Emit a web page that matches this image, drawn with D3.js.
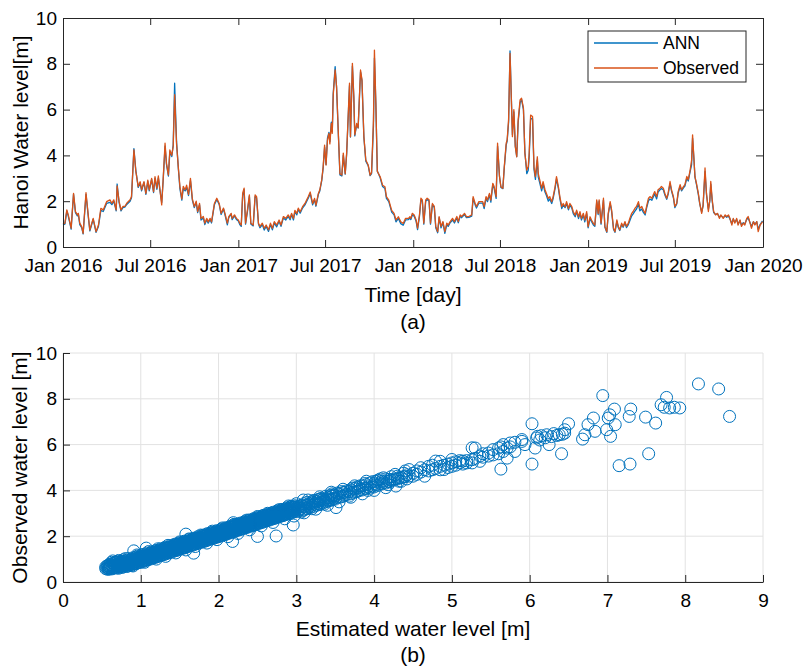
<!DOCTYPE html>
<html><head><meta charset="utf-8">
<script src="https://cdn.jsdelivr.net/npm/d3@7"></script>
<style>
body{margin:0;background:#fff}
text{font-family:"Liberation Sans",Arial,Helvetica,sans-serif}
</style>
</head><body>
<svg id="chart" width="804" height="669"></svg>
<script>
// ---------- Data: time series (day index since 1 Jan 2016) ----------
const days = [
0,4,8,11,17,22,26,30,32,35,39,42,48,53,56,63,69,74,79,84,91,98,102,106,111,113,117,121,125,129,133,140,143,148,152,157,161,164,169,173,177,180,185,189,192,196,199,202,206,209,213,216,220,223,227,230,233,237,241,244,248,251,255,258,262,266,270,274,278,281,285,288,293,296,300,303,307,310,316,321,326,330,335,338,343,346,351,353,358,362,366,369,372,375,378,381,385,389,392,397,401,404,408,411,416,420,424,429,433,437,441,446,451,455,460,465,470,474,
477,481,484,488,491,495,500,505,512,516,521,525,528,533,536,540,543,546,549,552,555,557,560,562,564,568,571,575,578,582,585,589,592,596,598,600,604,607,609,613,616,621,624,628,632,637,641,644,648,650,653,656,662,667,672,675,680,686,691,695,700,705,710,715,721,724,
726,729,733,737,740,744,747,750,753,757,760,764,767,771,775,778,782,785,789,793,797,801,804,808,813,817,822,825,829,832,838,842,847,853,856,860,863,868,876,879,883,886,890,893,897,900,904,907,911,914,918,921,925,927,930,933,936,938,941,944,947,950,954,957,961,964,968,971,973,976,980,983,986,990,992,995,999,1002,1006,1009,1013,1016,1020,1023,1027,1030,1034,1037,1041,1044,1048,1051,1055,1058,1062,1065,1069,1072,1076,1079,1082,1086,1089,1093,1096,1100,1103,1107,
1110,1114,1117,1119,1123,1128,1131,1135,1138,1142,1145,1149,1152,1156,1159,1162,1166,1169,1173,1176,1180,1183,1187,1190,1194,1197,1201,1204,1208,1211,1215,1218,1222,1225,1229,1232,1235,1239,1242,1246,1249,1253,1256,1260,1263,1267,1270,1274,1277,1281,1284,1288,1291,1295,1298,1302,1305,1309,1312,1314,1317,1319,1322,1326,1329,1333,1336,1340,1343,1347,1350,1352,1355,1358,1362,1366,1370,1373,1378,1382,1385,1389,1392,1396,1399,1402,1406,1409,1413,1416,1420,1423,1427,1430,1434,1437,1441,1444,1448,1451,1455,1458,1460
];
const observed = [
1.0,1.04,1.62,1.4,0.82,2.34,1.55,1.4,1.47,1.04,0.89,0.6,2.37,1.33,0.74,1.25,0.67,0.96,1.69,1.62,1.98,2.06,1.91,2.06,1.62,2.67,2.0,1.62,1.77,1.77,1.91,2.06,2.2,4.24,3.3,2.64,2.85,2.5,2.85,2.34,2.92,2.5,3.0,2.42,3.07,2.57,3.1,2.57,1.84,2.94,4.53,3.65,3.15,4.24,4.0,4.4,6.65,4.5,3.4,2.65,2.1,2.65,2.5,2.7,2.3,3.0,2.1,1.77,2.0,1.55,1.9,1.25,1.33,1.04,1.25,1.1,1.25,1.1,1.9,2.13,1.9,1.47,1.7,1.47,1.04,1.33,1.47,1.25,1.4,1.25,1.18,1.04,0.96,2.35,2.57,1.04,1.62,2.28,1.04,0.96,2.28,2.2,1.04,0.9,1.04,0.82,0.96,0.75,1.04,0.82,1.11,0.96,1.18,0.96,1.33,1.25,1.4,1.25,
1.47,1.25,1.6,1.47,1.7,1.54,1.76,1.9,2.2,2.4,1.9,2.12,1.83,2.34,2.5,2.93,3.5,4.45,3.58,4.67,4.96,4.5,5.4,4.96,6.64,7.73,7.0,4.8,3.2,3.14,4.1,3.2,4.1,6.13,7.15,4.82,8.02,6.56,4.9,5.4,5.2,7.73,7.3,4.82,3.8,3.58,3.14,3.25,5.55,8.6,6.27,3.3,3.07,2.7,2.63,2.2,2.05,1.6,1.47,1.18,1.32,1.1,1.03,1.25,1.25,1.32,
1.25,1.47,1.4,1.18,0.82,1.4,2.13,2.06,1.04,2.06,2.13,2.06,1.04,1.9,1.77,0.9,0.67,1.33,0.9,1.11,0.67,1.04,0.96,1.11,1.25,1.11,1.33,1.11,1.4,1.33,1.47,1.33,1.33,1.4,2.2,1.91,1.77,1.98,1.98,1.76,2.2,2.05,2.34,2.05,2.78,2.63,2.2,4.53,3.07,2.63,2.56,3.5,4.53,4.67,5.55,8.45,6.27,4.82,6.0,4.38,3.94,5.55,6.42,6.5,6.06,4.1,3.36,3.5,4.1,5.76,5.7,3.5,3.07,3.94,3.2,2.93,2.56,2.85,2.5,2.34,2.12,2.2,1.98,2.2,2.63,3.07,2.63,2.2,1.76,1.9,1.76,1.98,1.68,1.9,1.76,1.54,1.39,1.61,1.32,1.54,1.25,1.47,1.18,1.54,0.89,1.32,1.18,1.03,
0.96,2.06,1.47,2.06,1.04,2.13,0.9,0.67,1.47,1.98,1.62,0.82,0.67,1.18,0.9,0.75,1.04,0.9,1.11,0.9,1.04,1.25,1.47,1.55,1.7,1.77,1.98,1.69,1.77,1.62,1.47,1.77,2.13,2.2,2.13,2.28,2.42,2.2,2.5,2.57,2.64,2.57,2.35,2.13,2.35,2.86,2.5,2.2,1.77,1.91,2.42,2.72,2.5,2.64,2.72,3.08,2.94,3.37,3.8,4.9,3.8,3.07,2.79,2.35,1.9,1.47,1.84,3.45,2.35,1.55,2.06,2.86,2.06,1.55,1.4,1.47,1.25,1.4,1.25,1.4,1.33,1.4,1.25,0.96,1.25,1.04,1.25,0.96,1.18,0.9,1.04,0.96,1.25,1.33,1.04,0.82,1.11,0.96,1.11,0.67,0.96,1.04,1.11
];
const ann = [
0.97,1.0,1.58,1.35,0.78,2.3,1.5,1.36,1.44,0.98,0.85,0.57,2.3,1.28,0.7,1.21,0.64,0.9,1.6,1.55,1.9,1.95,1.85,2.0,1.58,2.75,1.95,1.58,1.72,1.74,1.86,2.0,2.15,4.3,3.35,2.6,2.8,2.45,2.82,2.3,2.86,2.45,2.95,2.38,3.0,2.52,3.02,2.52,1.95,2.88,4.4,3.6,3.1,4.15,3.95,4.45,7.15,4.6,3.35,2.55,2.05,2.55,2.45,2.6,2.25,2.9,2.05,1.72,1.95,1.5,1.84,1.18,1.27,0.98,1.2,1.04,1.2,1.05,1.85,2.08,1.86,1.42,1.66,1.42,0.97,1.28,1.43,1.2,1.36,1.2,1.13,0.98,0.9,2.25,2.5,1.0,1.55,2.22,1.0,0.92,2.2,2.15,1.0,0.84,0.98,0.74,0.9,0.68,0.98,0.75,1.05,0.88,1.12,0.9,1.27,1.18,1.34,1.19,
1.42,1.18,1.54,1.4,1.64,1.48,1.7,1.84,2.14,2.33,1.84,2.06,1.78,2.3,2.45,2.9,3.45,4.35,3.6,4.75,5.0,4.6,5.45,5.05,6.7,7.88,6.95,4.75,3.15,3.1,4.0,3.18,4.05,6.05,7.05,4.8,7.9,6.5,4.85,5.35,5.2,7.65,7.25,4.78,3.75,3.55,3.12,3.2,5.3,8.25,6.2,3.32,3.02,2.64,2.55,2.12,1.98,1.52,1.4,1.1,1.25,1.02,0.95,1.18,1.2,1.26,
1.2,1.4,1.34,1.12,0.76,1.34,2.05,2.0,1.0,2.0,2.07,2.0,1.0,1.85,1.72,0.84,0.62,1.28,0.84,1.06,0.6,0.98,0.9,1.06,1.18,1.05,1.27,1.06,1.35,1.28,1.42,1.28,1.29,1.35,2.12,1.86,1.7,1.92,1.92,1.68,2.14,1.98,2.28,1.96,2.72,2.55,2.12,4.4,3.1,2.6,2.55,3.45,4.45,4.62,5.45,8.56,6.35,4.9,5.9,4.4,3.95,5.45,6.3,6.45,6.0,4.15,3.2,3.35,3.95,5.6,5.6,3.4,2.95,3.8,3.05,2.8,2.45,2.75,2.4,2.25,2.0,2.1,1.9,2.12,2.55,2.98,2.55,2.12,1.68,1.84,1.72,1.9,1.62,1.84,1.7,1.46,1.32,1.55,1.24,1.48,1.18,1.4,1.1,1.46,0.84,1.25,1.12,0.96,
0.9,1.98,1.42,2.0,1.0,2.05,0.86,0.64,1.42,1.9,1.56,0.78,0.64,1.12,0.85,0.72,0.98,0.86,1.05,0.85,0.98,1.15,1.36,1.45,1.58,1.66,1.88,1.58,1.66,1.52,1.4,1.7,2.02,2.1,2.04,2.18,2.32,2.1,2.4,2.5,2.55,2.5,2.28,2.08,2.3,2.78,2.45,2.15,1.72,1.88,2.36,2.64,2.45,2.58,2.66,3.0,2.88,3.3,3.6,4.75,3.78,3.05,2.75,2.3,1.88,1.52,1.8,3.3,2.3,1.65,2.0,2.75,2.0,1.5,1.42,1.45,1.3,1.38,1.28,1.36,1.3,1.35,1.22,1.02,1.22,1.08,1.2,1.0,1.15,0.96,1.06,1.0,1.2,1.28,1.06,0.9,1.1,1.0,1.1,0.78,0.98,1.08,1.14
];
const yTicksTop = [0, 2, 4, 6, 8, 10];
const seriesNames = ["ANN", "Observed"];

// ---------- Data: scatter (estimated, observed) ----------
const scatterPoints = [
[0.55,0.58],[0.55,0.66],[0.58,0.62],[0.58,0.72],[0.58,0.55],[0.61,0.68],[0.61,0.6],[0.61,0.78],
[0.64,0.7],[0.64,0.62],[0.64,0.82],[0.64,0.92],[0.67,0.66],[0.67,0.74],[0.67,0.85],
[0.70,0.62],[0.70,0.71],[0.70,0.8],[0.70,0.9],[0.73,0.66],[0.73,0.75],[0.73,0.84],
[0.76,0.64],[0.76,0.72],[0.76,0.8],[0.76,0.9],[0.79,0.7],[0.79,0.78],[0.79,0.88],
[0.82,0.68],[0.82,0.76],[0.82,0.86],[0.82,0.95],[0.85,0.74],[0.85,0.83],[0.85,0.92],
[0.88,0.72],[0.88,0.8],[0.88,0.9],[0.88,1.0],[0.91,0.78],[0.91,0.87],[0.91,0.96],
[0.94,0.8],[0.94,0.9],[0.94,1.0],[0.94,1.08],[0.97,0.84],[0.97,0.93],[0.97,1.03],
[1.00,0.86],[1.00,0.96],[1.00,1.06],[1.00,1.14],[1.03,0.9],[1.03,0.99],[1.03,1.1],
[1.06,0.93],[1.06,1.03],[1.06,1.12],[1.06,1.2],[1.09,0.97],[1.09,1.06],[1.09,1.16],
[1.12,1.0],[1.12,1.1],[1.12,1.19],[1.12,1.27],[1.15,1.04],[1.15,1.13],[1.15,1.23],
[1.18,1.07],[1.18,1.16],[1.18,1.26],[1.18,1.33],[1.21,1.1],[1.21,1.2],[1.21,1.29],
[1.24,1.14],[1.24,1.23],[1.24,1.32],[1.24,1.4],[1.27,1.17],[1.27,1.27],[1.27,1.36],
[1.30,1.2],[1.30,1.3],[1.30,1.39],[1.30,1.47],[1.33,1.24],[1.33,1.33],[1.33,1.43],
[1.36,1.27],[1.36,1.37],[1.36,1.46],[1.36,1.53],[1.39,1.3],[1.39,1.4],[1.39,1.49],
[1.42,1.34],[1.42,1.43],[1.42,1.53],[1.42,1.6],[1.45,1.37],[1.45,1.47],[1.45,1.56],
[1.48,1.4],[1.48,1.5],[1.48,1.59],[1.48,1.67],[1.51,1.44],[1.51,1.53],[1.51,1.63],
[1.54,1.47],[1.54,1.57],[1.54,1.66],[1.54,1.73],[1.57,1.5],[1.57,1.6],[1.57,1.7],
[1.60,1.54],[1.60,1.63],[1.60,1.73],[1.60,1.8],[1.63,1.57],[1.63,1.67],[1.63,1.76],
[1.66,1.6],[1.66,1.7],[1.66,1.8],[1.66,1.87],[1.69,1.64],[1.69,1.73],[1.69,1.83],
[1.72,1.67],[1.72,1.77],[1.72,1.86],[1.72,1.93],[1.75,1.7],[1.75,1.8],[1.75,1.9],
[1.78,1.74],[1.78,1.83],[1.78,1.93],[1.78,2.0],[1.81,1.77],[1.81,1.87],[1.81,1.96],
[1.84,1.8],[1.84,1.9],[1.84,2.0],[1.84,2.07],[1.87,1.84],[1.87,1.93],[1.87,2.03],
[1.90,1.87],[1.90,1.97],[1.90,2.06],[1.90,2.13],[1.93,1.9],[1.93,2.0],[1.93,2.1],
[1.96,1.94],[1.96,2.03],[1.96,2.13],[1.96,2.2],[1.99,1.97],[1.99,2.07],[1.99,2.16],
[2.02,2.0],[2.02,2.1],[2.02,2.2],[2.02,2.27],[2.05,2.04],[2.05,2.13],[2.05,2.23],
[2.08,2.07],[2.08,2.17],[2.08,2.26],[2.08,2.33],[2.11,2.1],[2.11,2.2],[2.11,2.3],
[2.14,2.14],[2.14,2.23],[2.14,2.33],[2.14,2.4],[2.17,2.17],[2.17,2.27],[2.17,2.36],
[2.20,2.2],[2.20,2.3],[2.20,2.4],[2.20,2.47],[2.23,2.24],[2.23,2.33],[2.23,2.43],
[2.26,2.27],[2.26,2.37],[2.26,2.46],[2.26,2.53],[2.29,2.3],[2.29,2.4],[2.29,2.5],
[2.32,2.34],[2.32,2.43],[2.32,2.53],[2.32,2.6],[2.35,2.37],[2.35,2.47],[2.35,2.56],
[2.38,2.4],[2.38,2.5],[2.38,2.6],[2.38,2.67],[2.41,2.44],[2.41,2.53],[2.41,2.63],
[2.44,2.47],[2.44,2.57],[2.44,2.66],[2.44,2.73],[2.47,2.5],[2.47,2.6],[2.47,2.7],
[2.50,2.54],[2.50,2.63],[2.50,2.73],[2.50,2.8],[2.53,2.57],[2.53,2.67],[2.53,2.76],
[2.56,2.6],[2.56,2.7],[2.56,2.8],[2.56,2.87],[2.59,2.64],[2.59,2.73],[2.59,2.83],
[2.62,2.67],[2.62,2.77],[2.62,2.86],[2.62,2.93],[2.65,2.7],[2.65,2.8],[2.65,2.9],
[2.68,2.74],[2.68,2.83],[2.68,2.93],[2.68,3.0],[2.71,2.77],[2.71,2.87],[2.71,2.96],
[2.74,2.8],[2.74,2.9],[2.74,3.0],[2.74,3.07],[2.77,2.84],[2.77,2.93],[2.77,3.03],
[2.80,2.87],[2.80,2.97],[2.80,3.06],[2.80,3.13],[2.83,2.9],[2.83,3.0],[2.83,3.1],
[2.86,2.94],[2.86,3.03],[2.86,3.13],[2.86,3.2],[2.89,2.97],[2.89,3.07],[2.89,3.16],
[2.92,3.0],[2.92,3.1],[2.92,3.2],[2.92,3.27],[2.95,3.04],[2.95,3.13],[2.95,3.23],
[2.98,3.07],[2.98,3.17],[2.98,3.26],[2.98,3.33],
[0.565,0.6],[0.565,0.7],[0.595,0.58],[0.595,0.66],[0.595,0.76],[0.625,0.57],[0.625,0.73],[0.625,0.86],
[0.655,0.6],[0.655,0.69],[0.655,0.8],[0.685,0.64],[0.685,0.75],[0.685,0.86],[0.715,0.6],[0.715,0.69],[0.715,0.78],[0.715,0.94],
[0.745,0.68],[0.745,0.77],[0.745,0.87],[0.775,0.66],[0.775,0.75],[0.775,0.84],[0.775,0.97],[0.805,0.72],[0.805,0.81],[0.805,0.9],
[0.835,0.7],[0.835,0.79],[0.835,0.89],[0.835,1.02],[0.865,0.76],[0.865,0.86],[0.865,0.96],[0.895,0.78],[0.895,0.85],[0.895,0.95],[0.895,1.05],
[0.925,0.83],[0.925,0.92],[0.925,1.01],[0.955,0.86],[0.955,0.95],[0.955,1.04],[0.955,1.13],[0.985,0.9],[0.985,0.99],[0.985,1.08],
[1.015,0.92],[1.015,1.02],[1.015,1.11],[1.015,1.2],[1.045,0.96],[1.045,1.06],[1.045,1.15],[1.075,0.98],[1.075,1.09],[1.075,1.18],[1.075,1.26],
[1.105,1.03],[1.105,1.12],[1.105,1.22],[1.135,1.06],[1.135,1.15],[1.135,1.25],[1.135,1.31],[1.165,1.09],[1.165,1.19],[1.165,1.28],
[1.195,1.12],[1.195,1.22],[1.195,1.31],[1.195,1.38],[1.225,1.16],[1.225,1.25],[1.225,1.35],[1.255,1.19],[1.255,1.29],[1.255,1.38],[1.255,1.45],
[1.285,1.22],[1.285,1.32],[1.285,1.41],[1.315,1.26],[1.315,1.35],[1.315,1.45],[1.315,1.52],[1.345,1.29],[1.345,1.38],[1.345,1.48],
[1.375,1.32],[1.375,1.42],[1.375,1.51],[1.375,1.58],[1.405,1.36],[1.405,1.45],[1.405,1.55],[1.435,1.39],[1.435,1.49],[1.435,1.58],[1.435,1.65],
[1.465,1.42],[1.465,1.52],[1.465,1.61],[1.495,1.46],[1.495,1.55],[1.495,1.65],[1.495,1.71],[1.525,1.49],[1.525,1.58],[1.525,1.68],
[1.555,1.52],[1.555,1.62],[1.555,1.71],[1.555,1.78],[1.585,1.56],[1.585,1.65],[1.585,1.74],[1.615,1.59],[1.615,1.68],[1.615,1.78],[1.615,1.85],
[1.645,1.62],[1.645,1.72],[1.645,1.81],[1.675,1.66],[1.675,1.75],[1.675,1.84],[1.675,1.91],[1.705,1.69],[1.705,1.78],[1.705,1.88],
[1.735,1.72],[1.735,1.82],[1.735,1.91],[1.735,1.98],[1.765,1.76],[1.765,1.85],[1.765,1.94],[1.795,1.79],[1.795,1.88],[1.795,1.98],[1.795,2.04],
[1.825,1.82],[1.825,1.92],[1.825,2.01],[1.855,1.86],[1.855,1.95],[1.855,2.04],[1.855,2.11],[1.885,1.89],[1.885,1.98],[1.885,2.08],
[1.915,1.92],[1.915,2.02],[1.915,2.11],[1.915,2.17],[1.945,1.96],[1.945,2.05],[1.945,2.14],[1.975,1.99],[1.975,2.08],[1.975,2.18],[1.975,2.24],
[2.005,2.02],[2.005,2.12],[2.005,2.21],[2.035,2.06],[2.035,2.15],[2.035,2.24],[2.035,2.31],[2.065,2.09],[2.065,2.18],[2.065,2.28],
[2.095,2.12],[2.095,2.22],[2.095,2.31],[2.095,2.37],[2.125,2.16],[2.125,2.25],[2.125,2.34],[2.155,2.19],[2.155,2.28],[2.155,2.38],[2.155,2.44],
[2.185,2.22],[2.185,2.32],[2.185,2.41],[2.215,2.26],[2.215,2.35],[2.215,2.44],[2.215,2.51],[2.245,2.29],[2.245,2.38],[2.245,2.48],
[2.275,2.32],[2.275,2.42],[2.275,2.51],[2.275,2.57],[2.305,2.36],[2.305,2.45],[2.305,2.54],[2.335,2.39],[2.335,2.48],[2.335,2.58],[2.335,2.64],
[2.365,2.42],[2.365,2.52],[2.365,2.61],[2.395,2.46],[2.395,2.55],[2.395,2.64],[2.395,2.71],[2.425,2.49],[2.425,2.58],[2.425,2.68],
[2.455,2.52],[2.455,2.62],[2.455,2.71],[2.455,2.77],[2.485,2.56],[2.485,2.65],[2.485,2.74],[2.515,2.59],[2.515,2.68],[2.515,2.78],[2.515,2.84],
[2.545,2.62],[2.545,2.72],[2.545,2.81],[2.575,2.66],[2.575,2.75],[2.575,2.84],[2.575,2.91],[2.605,2.69],[2.605,2.78],[2.605,2.88],
[2.635,2.72],[2.635,2.82],[2.635,2.91],[2.635,2.97],[2.665,2.76],[2.665,2.85],[2.665,2.94],[2.695,2.79],[2.695,2.88],[2.695,2.98],[2.695,3.04],
[2.725,2.82],[2.725,2.92],[2.725,3.01],[2.755,2.86],[2.755,2.95],[2.755,3.04],[2.755,3.11],[2.785,2.89],[2.785,2.98],[2.785,3.08],
[2.815,2.92],[2.815,3.02],[2.815,3.11],[2.815,3.17],[2.845,2.96],[2.845,3.05],[2.845,3.14],[2.875,2.99],[2.875,3.08],[2.875,3.18],[2.875,3.24],
[2.905,3.02],[2.905,3.12],[2.905,3.21],[2.935,3.06],[2.935,3.15],[2.935,3.24],[2.935,3.31],[2.965,3.09],[2.965,3.18],[2.965,3.28],
[3.02,3.1],[3.02,3.22],[3.02,3.3],[3.06,3.05],[3.06,3.2],[3.06,3.35],[3.10,3.15],[3.10,3.28],[3.10,3.42],
[3.14,3.2],[3.14,3.35],[3.14,3.48],[3.18,3.26],[3.18,3.4],[3.22,3.3],[3.22,3.46],[3.22,3.56],
[3.26,3.35],[3.26,3.5],[3.30,3.38],[3.30,3.55],[3.30,3.62],[3.34,3.45],[3.34,3.6],
[3.38,3.5],[3.38,3.62],[3.38,3.75],[3.42,3.55],[3.42,3.68],[3.46,3.58],[3.46,3.75],[3.46,3.85],
[3.50,3.62],[3.50,3.78],[3.51,3.25],[3.55,3.7],[3.55,3.85],[3.60,3.75],[3.60,3.9],
[3.65,3.82],[3.65,3.98],[3.70,3.85],[3.70,4.02],[3.75,3.92],[3.75,4.08],[3.80,3.98],[3.80,4.12],
[3.85,4.02],[3.85,4.2],[3.90,4.08],[3.90,4.25],[3.95,4.1],[3.95,4.33],[4.00,4.15],[4.00,4.3],
[4.05,4.22],[4.05,4.45],[4.10,4.28],[4.10,4.4],[4.15,4.32],[4.15,4.5],[4.20,4.38],[4.20,4.48],
[3.04,3.15],[3.04,3.28],[3.08,3.12],[3.08,3.3],[3.12,3.22],[3.12,3.36],[3.16,3.28],[3.16,3.42],[3.20,3.2],[3.20,3.35],[3.20,3.5],
[3.24,3.4],[3.24,3.55],[3.28,3.42],[3.28,3.6],[3.32,3.48],[3.32,3.65],[3.36,3.4],[3.36,3.55],[3.40,3.58],[3.40,3.7],
[3.44,3.6],[3.44,3.78],[3.48,3.65],[3.48,3.8],[3.52,3.7],[3.52,3.88],[3.58,3.72],[3.58,3.95],[3.62,3.8],[3.62,3.92],
[3.68,3.75],[3.68,3.95],[3.72,3.92],[3.72,4.1],[3.78,3.95],[3.78,4.15],[3.82,4.05],[3.82,4.2],[3.88,4.1],[3.88,4.3],
[3.92,4.15],[3.92,4.0],[3.98,4.2],[3.98,4.38],[4.02,4.25],[4.02,4.4],[4.08,4.3],[4.08,4.5],[4.12,4.35],[4.12,4.55],
[4.18,4.4],[4.18,4.25],[4.22,4.45],[4.22,4.6],[4.27,4.5],[4.27,4.7],[4.32,4.55],[4.32,4.4],[4.38,4.6],[4.38,4.75],[4.42,4.5],[4.42,4.68],
[0.80,1.02],[0.95,1.18],[1.10,1.33],[1.22,1.45],[1.35,1.6],[1.50,1.75],[1.62,1.88],[1.77,2.05],[1.92,2.22],[2.05,2.36],[2.20,2.52],
[2.36,2.7],[2.50,2.86],[2.63,3.0],[2.78,3.16],[2.90,3.32],[3.00,3.42],[3.15,3.58],[3.30,3.72],[3.45,3.92],[3.60,4.05],[3.75,4.2],[3.90,4.4],
[0.90,0.7],[1.05,0.86],[1.20,1.0],[1.32,1.12],[1.45,1.27],[1.58,1.4],[1.70,1.55],[1.85,1.7],[1.98,1.85],[2.12,1.98],[2.25,2.12],
[2.40,2.28],[2.55,2.45],[2.70,2.6],[2.85,2.76],[2.97,2.88],[3.10,3.02],[3.25,3.18],[3.40,3.35],[3.55,3.5],[3.70,3.7],[3.85,3.85],[4.00,4.0],[4.15,4.12],
[4.25,4.45],[4.28,4.19],[4.30,4.5],[4.30,4.62],[4.35,4.55],[4.35,4.4],[4.40,4.6],[4.40,4.85],
[4.45,4.62],[4.45,4.91],[4.50,4.62],[4.50,4.75],[4.55,4.7],[4.55,4.85],[4.60,4.99],[4.60,4.8],
[4.65,4.62],[4.65,4.9],[4.70,4.85],[4.70,5.05],[4.75,4.9],[4.75,5.1],[4.79,5.28],[4.79,4.95],
[4.85,4.9],[4.85,5.27],[4.85,5.05],[4.90,4.91],[4.90,5.1],[4.95,5.15],[4.95,5.0],
[5.00,5.35],[5.00,5.05],[5.00,5.2],[5.05,5.1],[5.05,5.25],[5.10,5.2],[5.10,5.3],
[5.14,5.28],[5.14,5.15],[5.19,5.2],[5.19,5.3],[5.26,5.86],[5.26,5.34],[5.26,5.2],
[5.30,5.85],[5.30,5.4],[5.36,5.27],[5.36,5.5],[5.40,5.45],[5.40,5.6],[5.47,5.63],[5.47,5.5],
[5.53,5.78],[5.53,5.55],[5.60,5.85],[5.60,5.6],[5.63,4.93],[5.63,5.9],[5.66,6.0],[5.66,5.7],
[5.71,5.41],[5.71,5.85],[5.75,6.07],[5.75,5.9],[5.81,5.7],[5.81,6.1],[5.90,6.22],[5.90,6.14],
[5.94,6.0],[6.03,6.91],[6.03,5.15],[6.07,5.85],[6.09,6.29],[6.10,6.36],[6.13,6.2],[6.15,6.39],
[6.20,6.3],[6.22,6.43],[6.25,6.0],[6.28,6.35],[6.31,6.48],[6.35,6.4],[6.38,6.43],[6.41,5.6],
[6.42,6.45],[6.45,6.5],[6.45,6.65],[6.50,6.91],[6.68,6.24],[6.71,6.43],[6.75,6.87],[6.82,7.16],
[6.84,6.58],[6.94,8.14],[6.99,6.65],[7.01,7.16],[7.03,7.3],[7.04,6.36],[7.09,7.55],[7.10,6.87],
[7.15,5.08],[7.28,7.23],[7.29,5.15],[7.30,7.55],[7.49,7.2],[7.53,5.6],[7.62,6.94],[7.69,7.74],
[7.73,7.63],[7.76,8.06],[7.80,7.6],[7.86,7.63],[7.93,7.6],[8.17,8.65],[8.43,8.43],[8.57,7.23],
[2.74,2.01],[2.50,1.99],[2.18,1.77],[2.96,2.49],[1.68,1.26],[0.91,1.36],[1.07,1.48],[1.58,2.09],[2.19,2.59],[3.09,3.58]
];
const xTicksBottom = [0,1,2,3,4,5,6,7,8,9];
const yTicksBottom = [0,2,4,6,8,10];

// ---------- Drawing ----------
const svg = d3.select("#chart");
const blue = "#0072BD", orange = "#D95319", axisCol = "#262626";
const start = new Date(2016,0,1), end = new Date(2020,0,1);
const dates = days.map(d => d3.timeDay.offset(start, d));

// Panel (a)
const xT = d3.scaleTime().domain([start, end]).range([63, 763]);
const yT = d3.scaleLinear().domain([0, 10]).range([247, 18]);
const monthTicks = d3.timeMonth.every(6).range(start, d3.timeDay.offset(end, 1));
const fmt = d3.timeFormat("%b %Y");

function styleAxis(g, size) {
  g.selectAll("path.domain").attr("stroke", axisCol).attr("stroke-width", 1);
  g.selectAll(".tick line").attr("stroke", axisCol).attr("stroke-width", 1);
  g.selectAll(".tick text").attr("fill", "#000").style("font-size", size + "px")
    .style("font-family", '"Liberation Sans",Arial,Helvetica,sans-serif');
  g.attr("font-family", null).attr("font-size", null);
}

const line = (vals) => d3.line().x((d, i) => xT(dates[i])).y(d => yT(d))(vals);
svg.append("path").attr("d", line(ann)).attr("fill", "none").attr("stroke", blue).attr("stroke-width", 1.3).attr("stroke-linejoin", "round");
svg.append("path").attr("d", line(observed)).attr("fill", "none").attr("stroke", orange).attr("stroke-width", 1.3).attr("stroke-linejoin", "round");

const gxb = svg.append("g").attr("transform", "translate(0,247)")
  .call(d3.axisBottom(xT).tickValues(monthTicks).tickFormat(fmt).tickSizeInner(-7).tickSizeOuter(0).tickPadding(12));
styleAxis(gxb, 19);
const gxt = svg.append("g").attr("transform", "translate(0,18)")
  .call(d3.axisTop(xT).tickValues(monthTicks).tickFormat("").tickSizeInner(-7).tickSizeOuter(0));
styleAxis(gxt, 19);
const gyl = svg.append("g").attr("transform", "translate(63,0)")
  .call(d3.axisLeft(yT).tickValues(yTicksTop).tickSizeInner(-7).tickSizeOuter(0).tickPadding(6));
styleAxis(gyl, 19);
const gyr = svg.append("g").attr("transform", "translate(763,0)")
  .call(d3.axisRight(yT).tickValues(yTicksTop).tickFormat("").tickSizeInner(-7).tickSizeOuter(0));
styleAxis(gyr, 19);

// Legend
const lg = svg.append("g");
lg.append("rect").attr("x", 588).attr("y", 31).attr("width", 158).attr("height", 51)
  .attr("fill", "#fff").attr("stroke", axisCol).attr("stroke-width", 1);
[blue, orange].forEach((c, i) => {
  const yy = 43 + i * 25;
  lg.append("line").attr("x1", 594).attr("x2", 658).attr("y1", yy).attr("y2", yy).attr("stroke", c).attr("stroke-width", 1.3);
  lg.append("text").attr("x", 663).attr("y", yy).attr("dy", "0.36em").style("font-size", "17.5px").attr("fill", "#000").text(seriesNames[i]);
});

svg.append("text").attr("x", 413).attr("y", 302).attr("text-anchor", "middle").style("font-size", "21px").text("Time [day]");
svg.append("text").attr("x", 413).attr("y", 329).attr("text-anchor", "middle").style("font-size", "21px").text("(a)");
svg.append("text").attr("transform", "translate(28,132.5) rotate(-90)").attr("text-anchor", "middle").style("font-size", "21px").text("Hanoi Water level[m]");

// Panel (b)
const xS = d3.scaleLinear().domain([0, 9]).range([63, 763]);
const yS = d3.scaleLinear().domain([0, 10]).range([582, 353]);
const grid = svg.append("g");
xTicksBottom.forEach(t => grid.append("line").attr("x1", xS(t)).attr("x2", xS(t)).attr("y1", yS(0)).attr("y2", yS(10)).attr("stroke", "#e2e2e2").attr("stroke-width", 1));
yTicksBottom.forEach(t => grid.append("line").attr("x1", xS(0)).attr("x2", xS(9)).attr("y1", yS(t)).attr("y2", yS(t)).attr("stroke", "#e2e2e2").attr("stroke-width", 1));

svg.append("g").selectAll("circle").data(scatterPoints).join("circle")
  .attr("cx", d => xS(d[0])).attr("cy", d => yS(d[1])).attr("r", 6)
  .attr("fill", "none").attr("stroke", blue).attr("stroke-width", 1);

const gbx = svg.append("g").attr("transform", "translate(0,582)")
  .call(d3.axisBottom(xS).tickValues(xTicksBottom).tickSizeInner(-7).tickSizeOuter(0).tickPadding(12));
styleAxis(gbx, 19);
const gby = svg.append("g").attr("transform", "translate(63,0)")
  .call(d3.axisLeft(yS).tickValues(yTicksBottom).tickSizeInner(-7).tickSizeOuter(0).tickPadding(6));
styleAxis(gby, 19);

svg.append("text").attr("x", 413).attr("y", 636).attr("text-anchor", "middle").style("font-size", "21px").text("Estimated water level [m]");
svg.append("text").attr("x", 413).attr("y", 662).attr("text-anchor", "middle").style("font-size", "21px").text("(b)");
svg.append("text").attr("transform", "translate(27,467.5) rotate(-90)").attr("text-anchor", "middle").style("font-size", "21px").text("Observed water level [m]");
</script>
</body></html>
